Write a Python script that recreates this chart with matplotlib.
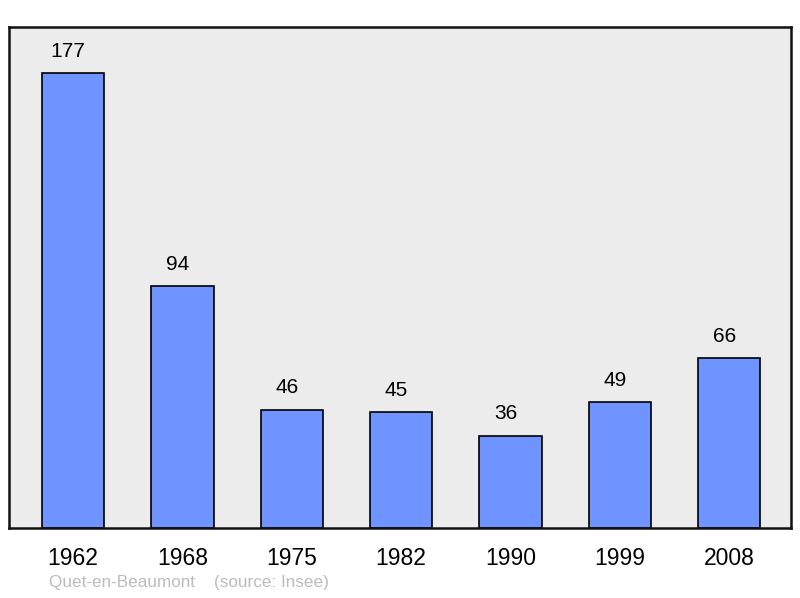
import matplotlib.pyplot as plt
import numpy as np

years = ['1962', '1968', '1975', '1982', '1990', '1999', '2008']
population = [177, 94, 46, 45, 36, 49, 66]
commune = 'Quet-en-Beaumont'
source = '(source: Insee)'

plt.rcParams['font.family'] = ['Liberation Sans', 'DejaVu Sans']

fig = plt.figure(figsize=(8, 5.98), dpi=100)
ax = fig.add_axes([9 / 800, 1 - 528 / 598, 782 / 800, 501 / 598])
ax.set_facecolor('#ececec')

x = np.arange(len(years))
ax.bar(x, population, width=0.57, color='#7094ff', edgecolor='black', linewidth=1.2, zorder=2)

# labels sit a little left of the bar centre, as in the original
for xi, v in zip(x, population):
    ax.annotate(str(v), (xi, v), xytext=(-3.5, 9), textcoords='offset points',
                ha='center', va='bottom', fontsize=15)

ax.set_xlim(-0.585, 6.565)
ax.set_ylim(0, 195)
ax.set_yticks([])
ax.set_xticks(x)
ax.set_xticklabels(years, fontsize=16.5)
ax.tick_params(axis='x', length=0, pad=14)
for s in ax.spines.values():
    s.set_linewidth(1.8)
    s.set_color('#111111')

fig.text(49 / 800, 1 - 583 / 598, commune + '    ' + source, fontsize=12.3,
         color='#bbbbbb', ha='left', va='center')

fig.savefig('out.png', dpi=100)
